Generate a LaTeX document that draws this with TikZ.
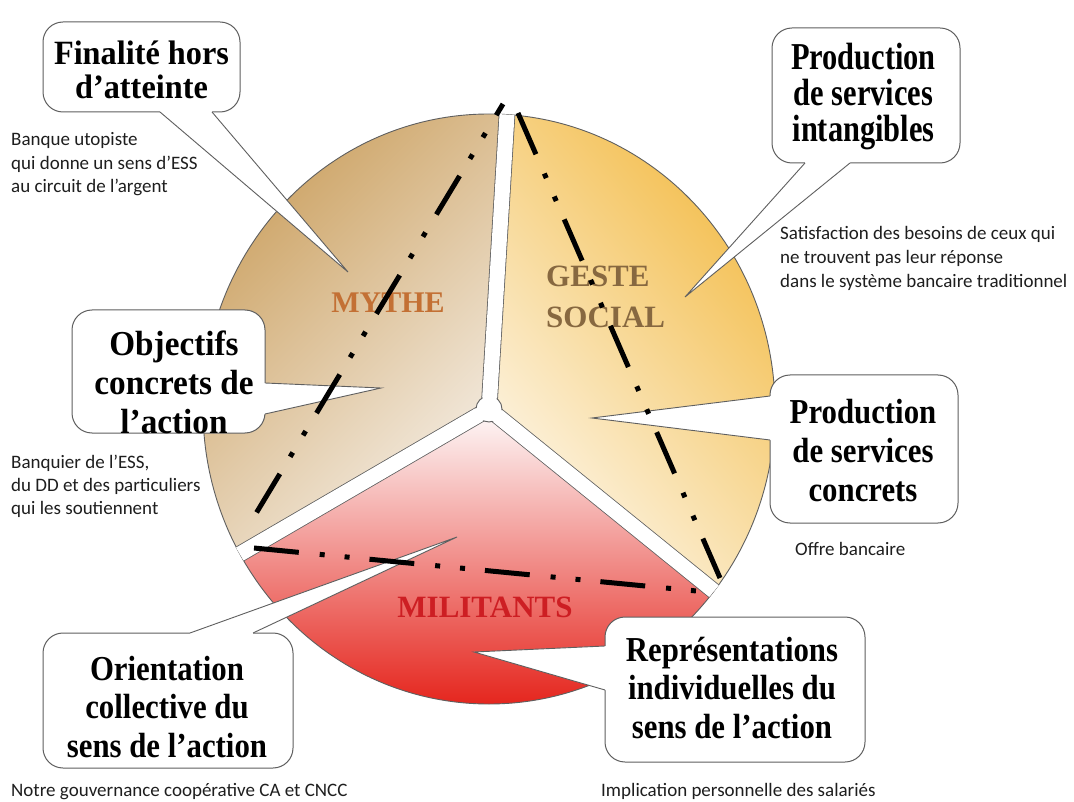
\documentclass[tikz,border=0pt]{standalone}
\usepackage{fontspec}
\setmainfont{Liberation Serif}
\newfontfamily\capfont{Carlito}
\newfontfamily\bubW[FakeStretch=0.95]{Liberation Serif}
\newfontfamily\bubN[FakeStretch=0.88]{Liberation Serif}
\newfontfamily\bubC[FakeStretch=0.8]{Liberation Serif}
\usetikzlibrary{calc}
\definecolor{mytheD}{RGB}{203,160,95}
\definecolor{mytheL}{RGB}{247,242,236}
\definecolor{gesteD}{RGB}{243,188,72}
\definecolor{gesteL}{RGB}{253,248,238}
\definecolor{milT}{RGB}{253,246,246}
\definecolor{milM}{RGB}{244,172,172}
\definecolor{milB}{RGB}{229,38,30}
\definecolor{edge}{RGB}{95,95,95}
\definecolor{mytheTxt}{RGB}{195,112,52}
\definecolor{gesteTxt}{RGB}{135,104,64}
\definecolor{milTxt}{RGB}{205,30,35}
\definecolor{capcol}{RGB}{30,30,30}
\newcommand{\mytail}[4]{%
  \fill[white] (#1) -- (#3) -- (#2) -- ($(#2)+(#4)$) -- ($(#1)+(#4)$) -- cycle;
  \draw[edgeline, line join=miter] (#1) -- (#3) -- (#2);}
\begin{document}
\begin{tikzpicture}[x=1pt,y=-1pt,
  edgeline/.style={draw=edge, line width=0.9pt},
  gapline/.style={draw=edge, line width=0.8pt, double=white, double distance=15pt},
  bubblebox/.style={draw=edge, line width=1pt, fill=white, rounded corners=20pt, inner sep=0pt},
  bubtxt/.style={align=center, inner sep=0pt, anchor=base, text=black},
  captxt/.style={anchor=base west, inner sep=0pt, align=left, text=capcol},
  dashdot/.style={line width=5pt, dash pattern=on 45pt off 21pt on 5pt off 20pt on 5pt off 20pt},
  seclabel/.style={inner sep=0pt, font=\bfseries\fontsize{31}{41}\selectfont},
  pie/.style={x radius=286, y radius=295}
]
\fill[white] (0,0) rectangle (1074,802);
\useasboundingbox (0,0) rectangle (1074,802);
\coordinate (C) at (489,409);
% sectors
\begin{scope}
  \clip (C) ellipse[pie];
  \clip (C) -- +(149.8:700) -- +(211.6:900) -- +(273.5:700) -- cycle;
  \shade[top color=mytheD, bottom color=mytheL, shading angle=45] (195,105) rectangle (520,570);
\end{scope}
\begin{scope}
  \clip (C) ellipse[pie];
  \clip (C) -- +(-86.5:700) -- +(-23.7:900) -- +(39.0:700) -- cycle;
  \shade[top color=gesteD, bottom color=gesteL, shading angle=-50] (480,105) rectangle (780,600);
\end{scope}
\begin{scope}
  \clip (C) ellipse[pie];
  \clip (C) -- +(39.0:700) -- +(94.4:900) -- +(149.8:700) -- cycle;
  \shade[top color=milT, middle color=milM, bottom color=milB] (200,415) rectangle (780,704);
\end{scope}
\draw[edgeline] (C) ellipse[pie];
% gaps
\draw[gapline] (C) -- +(-86.5:295);
\draw[gapline] (C) -- +(149.8:288.4);
\draw[gapline] (C) -- +(39.0:289.5);
% hub
\node[circle, fill=white, draw=edge, line width=0.9pt, minimum size=26pt, inner sep=0pt] (hub) at (C) {};
\draw[white, line width=14pt] (C) -- +(-86.5:20);
\draw[white, line width=14pt] (C) -- +(149.8:20);
\draw[white, line width=14pt] (C) -- +(39.0:20);
% section labels
\node[seclabel, text=mytheTxt, anchor=base, font=\bfseries\fontsize{30}{36}\selectfont] (mythe) at (388,313) {MYTHE};
\node[seclabel, text=gesteTxt, anchor=base west, align=left] (geste) at (546,328) {GESTE\\SOCIAL};
\node[seclabel, text=milTxt, anchor=base] (milit) at (485,617) {MILITANTS};
% bubbles
\node[bubblebox, minimum width=197pt, minimum height=90pt] (fin) at (141.5,67) {};
\coordinate (finB1) at (160,112); \coordinate (finB2) at (212,112); \coordinate (finTip) at (348,272);
\mytail{finB1}{finB2}{finTip}{0,-4}
\node[bubtxt, font=\bubW\bfseries\fontsize{34}{34}\selectfont] (fint) at (141.5,99) {Finalité hors\\d’atteinte};

\node[bubblebox, minimum width=188pt, minimum height=135pt] (intg) at (866,95.5) {};
\coordinate (intB1) at (805,163); \coordinate (intB2) at (850,163); \coordinate (intTip) at (685,297);
\mytail{intB1}{intB2}{intTip}{0,-4}
\node[bubtxt, font=\bubC\bfseries\fontsize{38}{36}\selectfont] (intt) at (863.5,142) {Production\\de services\\intangibles};

\node[bubblebox, minimum width=193pt, minimum height=123pt] (obj) at (168.5,371.5) {};
\coordinate (objB1) at (265,383); \coordinate (objB2) at (265,414); \coordinate (objTip) at (381,388);
\mytail{objB1}{objB2}{objTip}{-4,0}
\node[bubtxt, font=\bubW\bfseries\fontsize{35}{39}\selectfont] (objt) at (174,433) {Objectifs\\concrets de\\l’action};

\node[bubblebox, minimum width=250pt, minimum height=135pt] (ori) at (168,700.5) {};
\coordinate (oriB1) at (190,633); \coordinate (oriB2) at (253,633); \coordinate (oriTip) at (457,537);
\mytail{oriB1}{oriB2}{oriTip}{0,4}
\node[bubtxt, font=\bubN\bfseries\fontsize{35}{38.5}\selectfont] (orit) at (167,757) {Orientation\\collective du\\sens de l’action};

\node[bubblebox, minimum width=260pt, minimum height=145pt] (rep) at (735,689.5) {};
\coordinate (repB1) at (605,646); \coordinate (repB2) at (605,690); \coordinate (repTip) at (474,652);
\mytail{repB1}{repB2}{repTip}{4,0}
\node[bubtxt, font=\bubN\bfseries\fontsize{35}{38.5}\selectfont] (rept) at (732,738) {Représentations\\individuelles du\\sens de l’action};

\node[bubblebox, minimum width=188pt, minimum height=148pt] (con) at (864,449) {};
\coordinate (conB1) at (770,396); \coordinate (conB2) at (770,440); \coordinate (conTip) at (592,418);
\mytail{conB1}{conB2}{conTip}{4,0}
\node[bubtxt, font=\bubN\bfseries\fontsize{35}{39}\selectfont] (cont) at (863,501) {Production\\de services\\concrets};
% dash-dot lines
\coordinate (m1) at (503,104); \coordinate (m2) at (246,530);
\coordinate (g1) at (518,113); \coordinate (g2) at (720,578);
\coordinate (l1) at (254,548); \coordinate (l2) at (707,592);
\draw[dashdot, dash phase=32pt] (m1) -- (m2);
\draw[dashdot] (g1) -- (g2);
\draw[dashdot] (l1) -- (l2);
% captions
\node[captxt, font=\capfont\fontsize{19}{23.5}\selectfont] (c1) at (11,193) {Banque utopiste\\qui donne un sens d’ESS\\au circuit de l’argent};
\node[captxt, font=\capfont\fontsize{19}{24}\selectfont] (c2) at (780,288) {Satisfaction des besoins de ceux qui\\ne trouvent pas leur réponse\\dans le système bancaire traditionnel};
\node[captxt, font=\capfont\fontsize{19}{23}\selectfont] (c3) at (11,514) {Banquier de l’ESS,\\du DD et des particuliers\\qui les soutiennent};
\node[captxt, font=\capfont\fontsize{19}{23}\selectfont] (c4) at (795,555) {Offre bancaire};
\node[captxt, font=\capfont\fontsize{19}{23}\selectfont] (c5) at (11,796) {Notre gouvernance coopérative CA et CNCC};
\node[captxt, font=\capfont\fontsize{19}{23}\selectfont] (c6) at (601,796) {Implication personnelle des salariés};
\end{tikzpicture}
\end{document}
